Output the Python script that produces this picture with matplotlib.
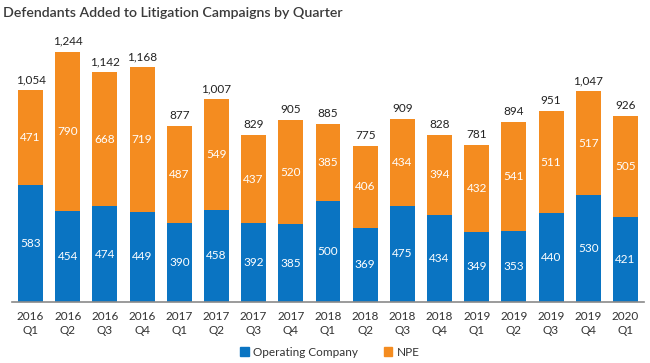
import matplotlib.pyplot as plt
import numpy as np
from matplotlib.patches import Patch

quarters = ["2016\nQ1", "2016\nQ2", "2016\nQ3", "2016\nQ4",
            "2017\nQ1", "2017\nQ2", "2017\nQ3", "2017\nQ4",
            "2018\nQ1", "2018\nQ2", "2018\nQ3", "2018\nQ4",
            "2019\nQ1", "2019\nQ2", "2019\nQ3", "2019\nQ4",
            "2020\nQ1"]
operating = [583, 454, 474, 449, 390, 458, 392, 385, 500, 369, 475, 434, 349, 353, 440, 530, 421]
npe = [471, 790, 668, 719, 487, 549, 437, 520, 385, 406, 434, 394, 432, 541, 511, 517, 505]

BLUE = "#0A74C2"
ORANGE = "#F48C20"

plt.rcParams["font.family"] = ["Lato", "DejaVu Sans"]

fig = plt.figure(figsize=(6.5, 3.63), dpi=100)
ax = fig.add_axes([12 / 650, 0.169, 632 / 650, 0.719])

x = np.arange(len(quarters))
op = np.array(operating)
np_ = np.array(npe)
total = op + np_

ax.bar(x, op, width=0.67, color=BLUE)
ax.bar(x, np_, width=0.67, bottom=op, color=ORANGE)

# segment values inside, totals on top
for i in x:
    ax.text(i, op[i] / 2, str(op[i]), ha="center", va="center", color="white", fontsize=8.5)
    ax.text(i, op[i] + np_[i] / 2, str(np_[i]), ha="center", va="center", color="white", fontsize=8.5)
    ax.text(i, total[i] + 25, f"{total[i]:,}", ha="center", va="bottom", color="#222222", fontsize=8.5)

ax.set_xlim(-0.5, 16.5)
ax.set_ylim(0, 1300)
ax.set_xticks(x)
ax.set_xticklabels(quarters, fontsize=8.5, color="#333333", linespacing=1.25)
ax.tick_params(axis="x", length=0, pad=7)
ax.set_yticks([])
for s in ["top", "right", "left"]:
    ax.spines[s].set_visible(False)
ax.spines["bottom"].set_color("#8a8a8a")
ax.spines["bottom"].set_linewidth(1.2)

fig.text(0.005, 0.965, "Defendants Added to Litigation Campaigns by Quarter",
         fontsize=10.2, fontweight="semibold", color="#3a3a3a", va="center", ha="left")

handles = [Patch(color=BLUE, label="Operating Company"), Patch(color=ORANGE, label="NPE")]
fig.legend(handles=handles, loc="center", bbox_to_anchor=(0.508, 0.03), ncol=2, frameon=False,
           fontsize=8.5, handlelength=0.7, handleheight=0.7, handletextpad=0.4, columnspacing=2.2,
           labelcolor="#333333")

fig.savefig("out.png", dpi=100)
